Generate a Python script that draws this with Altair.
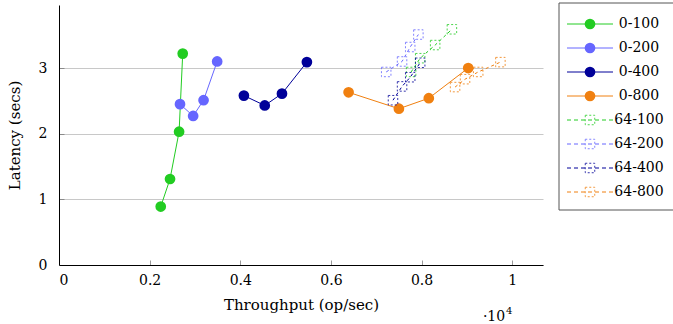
import altair as alt
import pandas as pd

# ---- data (throughput in units of 10^4 op/sec, latency in secs) ----
series_names = ["0-100", "0-200", "0-400", "0-800", "64-100", "64-200", "64-400", "64-800"]
colors = ["#22cc22", "#6666ff", "#000099", "#f08010", "#22cc22", "#6666ff", "#000099", "#f08010"]

x_0_100 = [0.2245, 0.245, 0.265, 0.273]
y_0_100 = [0.89, 1.31, 2.03, 3.22]
x_0_200 = [0.267, 0.296, 0.319, 0.349]
y_0_200 = [2.45, 2.27, 2.51, 3.10]
x_0_400 = [0.408, 0.454, 0.492, 0.547]
y_0_400 = [2.58, 2.43, 2.61, 3.09]
x_0_800 = [0.639, 0.750, 0.816, 0.903]
y_0_800 = [2.63, 2.38, 2.54, 3.00]
x_64_100 = [0.777, 0.797, 0.830, 0.867]
y_64_100 = [2.94, 3.15, 3.35, 3.59]
x_64_200 = [0.722, 0.757, 0.775, 0.793]
y_64_200 = [2.94, 3.10, 3.32, 3.51]
x_64_400 = [0.737, 0.757, 0.775, 0.797]
y_64_400 = [2.51, 2.72, 2.86, 3.08]
x_64_800 = [0.874, 0.896, 0.925, 0.974]
y_64_800 = [2.71, 2.83, 2.94, 3.09]

x_ticks = [0, 0.2, 0.4, 0.6, 0.8, 1]
y_ticks = [0, 1, 2, 3]

xs = [x_0_100, x_0_200, x_0_400, x_0_800, x_64_100, x_64_200, x_64_400, x_64_800]
ys = [y_0_100, y_0_200, y_0_400, y_0_800, y_64_100, y_64_200, y_64_400, y_64_800]

rows = []
for name, xv, yv in zip(series_names, xs, ys):
    grp = "dash" if name.startswith("64") else "solid"
    for i, (a, b) in enumerate(zip(xv, yv)):
        rows.append({"series": name, "x": a, "y": b, "idx": i, "grp": grp})
df = pd.DataFrame(rows)
leg_df = pd.DataFrame({"series": series_names,
                       "grp": ["dash" if s.startswith("64") else "solid" for s in series_names]})

FONT = "DejaVu Serif"
FS = 14
W, H = 484, 260

xscale = alt.Scale(domain=[0, 1.068], nice=False, zero=False)
yscale = alt.Scale(domain=[0, 3.96], nice=False, zero=False)
color = alt.Color("series:N", scale=alt.Scale(domain=series_names, range=colors), legend=None)

xenc = alt.X("x:Q", scale=xscale,
             axis=alt.Axis(orient="bottom", values=x_ticks, format="~g", title="Throughput (op/sec)",
                           grid=False, tickSize=0, labelPadding=8, titlePadding=10, domainColor="black",
                           labelFont=FONT, titleFont=FONT, labelFontSize=FS, titleFontSize=FS + 1,
                           labelColor="black", titleColor="black", titleFontWeight="normal"))
yenc = alt.Y("y:Q", scale=yscale,
             axis=alt.Axis(orient="left", values=y_ticks, format="~g", title="Latency (secs)", grid=True,
                           gridColor="#c8c8c8", tickSize=0, labelPadding=12, titlePadding=16,
                           domainColor="black", labelFont=FONT, titleFont=FONT,
                           labelFontSize=FS, titleFontSize=FS + 1, labelColor="black",
                           titleColor="black", titleFontWeight="normal"))
xn = alt.X("x:Q", scale=xscale, axis=None)
yn = alt.Y("y:Q", scale=yscale, axis=None)

base = alt.Chart(df)

solid_lines = base.transform_filter(alt.datum.grp == "solid").mark_line(strokeWidth=1).encode(
    x=xenc, y=yenc, color=color, detail="series:N", order="idx:Q")
dash_lines = base.transform_filter(alt.datum.grp == "dash").mark_line(
    strokeWidth=1, strokeDash=[3, 3]).encode(
    x=xn, y=yn, color=color, detail="series:N", order="idx:Q")
dots = base.transform_filter(alt.datum.grp == "solid").mark_point(
    shape="circle", filled=True, size=115, opacity=1).encode(x=xn, y=yn, color=color)
squares = base.transform_filter(alt.datum.grp == "dash").mark_point(
    shape="square", filled=False, size=90, strokeWidth=1, strokeDash=[2, 2], opacity=0.8).encode(
    x=xn, y=yn, color=color)

# inward tick marks: a second, label-less axis pair drawn just inside the frame
ticks_layer = base.mark_point(opacity=0).encode(
    x=alt.X("x:Q", scale=xscale,
            axis=alt.Axis(orient="bottom", values=x_ticks[1:], labels=False, domain=False, grid=False,
                          title=None, tickSize=5, offset=-5, tickColor="#9a9a9a")),
    y=alt.Y("y:Q", scale=yscale,
            axis=alt.Axis(orient="left", values=y_ticks[1:], labels=False, domain=False, grid=False,
                          title=None, tickSize=5, offset=-5, tickColor="#8a8a8a")),
)

# ---- hand-built legend ----
ly = alt.Y("series:N", scale=alt.Scale(type="point", domain=series_names, range=[19, 187], padding=0),
           axis=None)
leg = alt.Chart(leg_df)
leg_box = alt.Chart(pd.DataFrame({"a": [0]})).mark_rect(
    fill="white", stroke="#555555", strokeWidth=1).encode(
    x=alt.value(500), x2=alt.value(620), y=alt.value(-2), y2=alt.value(205))
leg_solid = leg.transform_filter(alt.datum.grp == "solid").mark_rule(strokeWidth=1).encode(
    x=alt.value(508), x2=alt.value(554), y=ly, color=color)
leg_dash = leg.transform_filter(alt.datum.grp == "dash").mark_rule(strokeWidth=1, strokeDash=[4, 3]).encode(
    x=alt.value(508), x2=alt.value(554), y=ly, color=color)
leg_dot = leg.transform_filter(alt.datum.grp == "solid").mark_point(
    shape="circle", filled=True, size=115, opacity=1).encode(x=alt.value(531), y=ly, color=color)
leg_sq = leg.transform_filter(alt.datum.grp == "dash").mark_point(
    shape="square", filled=False, size=90, strokeWidth=1, strokeDash=[2, 2], opacity=0.8).encode(
    x=alt.value(531), y=ly, color=color)
leg_txt = leg.mark_text(font=FONT, fontSize=FS, align="center", baseline="middle", color="black").encode(
    x=alt.value(580), y=ly, text="series:N")

exp_base = alt.Chart(pd.DataFrame({"t": ["·10"], "e": ["4"]}))
exp_txt = exp_base.mark_text(
    font=FONT, fontSize=FS, align="center", baseline="alphabetic", color="black").encode(
    x=alt.value(435), y=alt.value(316), text="t:N")
exp_sup = exp_base.mark_text(
    font=FONT, fontSize=10, align="left", baseline="alphabetic", color="black").encode(
    x=alt.value(447), y=alt.value(309), text="e:N")

main = alt.layer(ticks_layer, solid_lines, dash_lines, dots, squares, exp_txt, exp_sup).resolve_axis(
    x="independent", y="independent")
legend = alt.layer(leg_box, leg_solid, leg_dash, leg_dot, leg_sq, leg_txt)

chart = alt.layer(main, legend).resolve_scale(y="independent").properties(
    width=W, height=H,
    autosize=alt.AutoSizeParams(type="none"),
    padding={"left": 59, "top": 5, "right": 130, "bottom": 59},
).configure_view(stroke=None)

chart.save("out.html", embed_options={"renderer": "svg", "actions": False})
